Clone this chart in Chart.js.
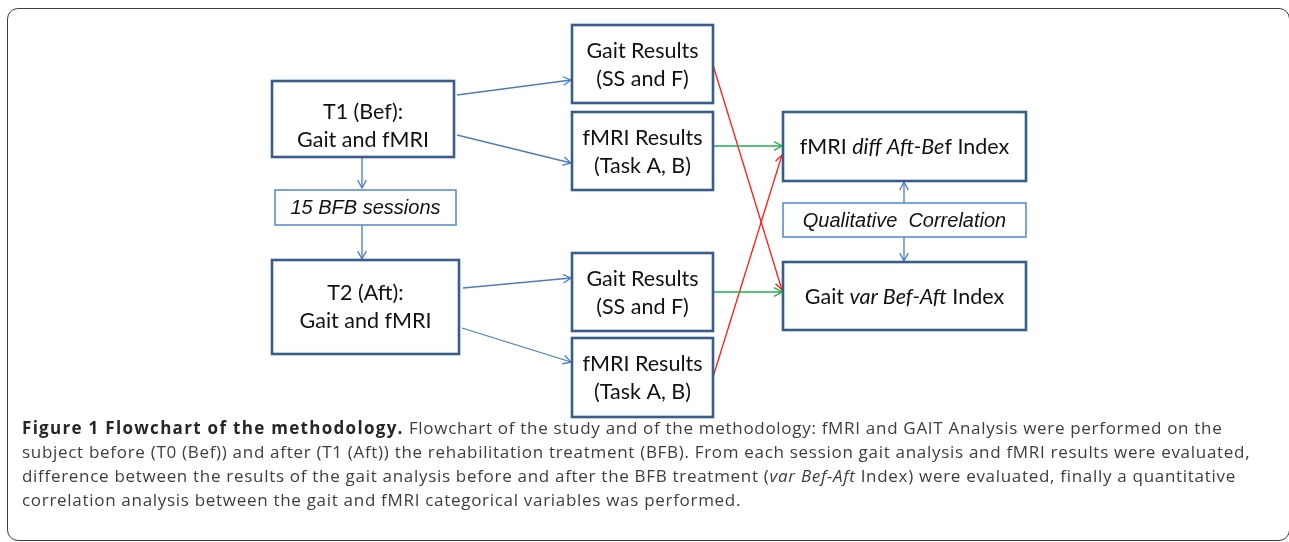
<!DOCTYPE html>
<html>
<head>
<meta charset="utf-8">
<script src="https://cdn.jsdelivr.net/npm/chart.js@4/dist/chart.umd.min.js"></script>
<style>
html,body{margin:0;padding:0;background:#fff;overflow:hidden;width:1289px;height:542px;}
#frame{position:absolute;left:7px;top:8px;width:1283px;height:533px;border:1.5px solid #3c3c3c;border-radius:11px;box-sizing:border-box;}
#c{position:absolute;left:0;top:0;}
#caption{position:absolute;left:22px;top:416px;width:1262px;font-family:"Open Sans",sans-serif;font-size:17px;letter-spacing:0.7px;line-height:24px;color:#3d3d3d;white-space:nowrap;}
#caption b{color:#262626;font-weight:700;letter-spacing:1.3px;}
</style>
</head>
<body>
<div id="frame"></div>
<canvas id="c" width="1289" height="542"></canvas>
<div id="caption"><b>Figure 1 Flowchart of the methodology.</b> Flowchart of the study and of the methodology: fMRI and GAIT Analysis were performed on the<br>subject before (T0 (Bef)) and after (T1 (Aft)) the rehabilitation treatment (BFB). From each session gait analysis and fMRI results were evaluated,<br>difference between the results of the gait analysis before and after the BFB treatment (<i>var Bef-Aft</i> Index) were evaluated, finally a quantitative<br>correlation analysis between the gait and fMRI categorical variables was performed.</div>
<script>
// ---- node content (text lines; segments: [text, italic?]) ----
const nodeNames = ["T1","BFB","T2","Gait1","fMRI1","Gait2","fMRI2","Diff","Qual","Var"];
const nodeLines = [
  [[["T1 (Bef):",0]],[["Gait and fMRI",0]]],
  [[["15 BFB sessions",1]]],
  [[["T2 (Aft):",0]],[["Gait and fMRI",0]]],
  [[["Gait Results",0]],[["(SS and F)",0]]],
  [[["fMRI Results",0]],[["(Task A, B)",0]]],
  [[["Gait Results",0]],[["(SS and F)",0]]],
  [[["fMRI Results",0]],[["(Task A, B)",0]]],
  [[["fMRI ",0],["diff Aft-Be",1],["f Index",0]]],
  [[["Qualitative  Correlation",1]]],
  [[["Gait ",0],["var Bef-Aft",1],[" Index",0]]]
];
const nodeKind = ["main","light","main","main","main","main","main","main","light","main"];
// node extents in chart units (left, top, right, bottom)
const nodeLeft   = [272,275,272,572,572,572,572,783,783,783];
const nodeTop    = [81,190,260,25,112,253,338,112,203,262];
const nodeRight  = [454,456,459,713,713,713,713,1026,1026,1026];
const nodeBottom = [157,225,354,103,190,331,417,181,237,330];
const nodeTextShift = [6,0,-1,0,0,0,0,0,0,0];

// ---- connectors (from x,y to x,y) ----
const linkKind = ["blue","blue","blue","blue","blue","blue","green","green","red","red","blue","blue"];
const linkX1 = [362,362,457,457,463,462,713,713,713,713,904,904];
const linkY1 = [157,225,95,135,288,328,146,292,65,377,203,237];
const linkX2 = [362,362,571,571,571,571,782,782,782,782,904,904];
const linkY2 = [188,259,80,163,278,362,146,292,290,155,182,261];

const W = 1289, H = 542;
const linkColor = {blue:"#4a7ebb", green:"#1fb04a", red:"#ff1a1a"};

const datasets = linkKind.map((k,i)=>({
  data:[{x:linkX1[i],y:linkY1[i]},{x:linkX2[i],y:linkY2[i]}],
  showLine:true, borderColor:linkColor[k], borderWidth:1.3,
  pointRadius:0, pointHoverRadius:0, fill:false, tension:0
}));

const flowPlugin = {
  id:"flow",
  afterDatasetsDraw(chart){
    const ctx = chart.ctx, xs = chart.scales.x, ys = chart.scales.y;
    const px = v=>xs.getPixelForValue(v), py = v=>ys.getPixelForValue(v);
    ctx.save();
    // arrowheads
    linkKind.forEach((k,i)=>{
      const x1=px(linkX1[i]),y1=py(linkY1[i]),x2=px(linkX2[i]),y2=py(linkY2[i]);
      const a=Math.atan2(y2-y1,x2-x1), L=9, s=0.5;
      ctx.strokeStyle=linkColor[k]; ctx.lineWidth=1.3;
      ctx.beginPath();
      ctx.moveTo(x2-L*Math.cos(a-s),y2-L*Math.sin(a-s));
      ctx.lineTo(x2,y2);
      ctx.lineTo(x2-L*Math.cos(a+s),y2-L*Math.sin(a+s));
      ctx.stroke();
    });
    // boxes
    nodeNames.forEach((n,i)=>{
      const l=px(nodeLeft[i]),t=py(nodeTop[i]),r=px(nodeRight[i]),b=py(nodeBottom[i]);
      ctx.fillStyle="#fff"; ctx.fillRect(l,t,r-l,b-t);
      if(nodeKind[i]==="main"){ctx.strokeStyle="#385d8a";ctx.lineWidth=2.6;}
      else {ctx.strokeStyle="#5b8fd0";ctx.lineWidth=1.6;}
      ctx.strokeRect(l,t,r-l,b-t);
      const lines=nodeLines[i];
      const lh=28, cx=(l+r)/2, cy=(t+b)/2+nodeTextShift[i];
      lines.forEach((segs,j)=>{
        const y=cy+(j-(lines.length-1)/2)*lh+1;
        const fontFor=it=> nodeKind[i]==="light" ? (it?"italic ":"")+"20px 'Liberation Sans', Arial, sans-serif"
                                                  : (it?"italic ":"")+"21.5px Lato, sans-serif";
        let total=0;
        segs.forEach(s=>{ctx.font=fontFor(s[1]); total+=ctx.measureText(s[0]).width;});
        let x=cx-total/2;
        ctx.fillStyle="#111"; ctx.textBaseline="middle"; ctx.textAlign="left";
        segs.forEach(s=>{ctx.font=fontFor(s[1]); ctx.fillText(s[0],x,y); x+=ctx.measureText(s[0]).width;});
      });
    });
    ctx.restore();
  }
};

new Chart(document.getElementById("c"),{
  type:"scatter",
  data:{datasets},
  options:{
    responsive:false, animation:false, devicePixelRatio:1,
    layout:{padding:0},
    plugins:{legend:{display:false},tooltip:{enabled:false},title:{display:false}},
    scales:{
      x:{type:"linear",min:0,max:W,display:false},
      y:{type:"linear",min:0,max:H,reverse:true,display:false}
    }
  },
  plugins:[flowPlugin]
});
</script>
</body>
</html>
